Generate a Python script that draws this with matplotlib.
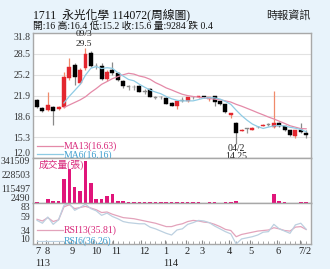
import matplotlib
matplotlib.use('Agg')
import matplotlib.pyplot as plt
import matplotlib.transforms as mtransforms
import numpy as np

# ---------------- data ----------------
opens = [21.2, 19.9, 19.6, 20.0, 19.7, 20.0, 24.6, 26.7, 23.9, 26.2,
         28.7, 26.6, 26.6, 24.5, 25.9, 25.5, 24.2, 23.35, 23.3, 23.4,
         22.6, 23.0, 21.65, 21.65, 21.5, 20.7, 20.2, 21.15, 21.0, 21.65,
         21.6, 21.8, 21.3, 21.8, 21.0, 20.5, 18.8, 17.6, 16.3, 16.65,
         16.5, 16.95, 17.1, 17.35, 16.9, 17.6, 17.0, 16.4, 15.5, 16.5, 16.0]
highs = [21.4, 20.1, 22.4, 20.3, 20.3, 25.7, 27.8, 27.0, 26.3, 29.5,
         28.9, 27.0, 27.0, 25.9, 27.2, 25.7, 24.4, 23.6, 23.5, 23.6,
         22.9, 23.1, 21.8, 21.8, 21.6, 20.8, 21.2, 21.6, 21.7, 21.8,
         21.9, 21.9, 21.7, 21.9, 21.1, 20.6, 19.2, 17.7, 16.6, 16.8,
         16.9, 17.0, 17.4, 17.5, 22.6, 17.7, 17.1, 16.5, 16.5, 17.6, 16.4]
lows = [19.9, 19.3, 19.5, 17.3, 19.6, 19.9, 24.4, 23.6, 23.8, 26.0,
        26.4, 26.1, 24.3, 24.2, 25.2, 24.2, 23.1, 22.7, 22.8, 22.4,
        22.2, 21.6, 21.4, 21.4, 20.5, 20.2, 19.7, 20.9, 20.9, 21.4,
        21.5, 21.5, 21.0, 20.3, 20.4, 19.2, 18.3, 14.25, 16.2, 16.0,
        16.4, 16.7, 17.0, 17.1, 16.8, 16.9, 16.3, 15.5, 15.2, 16.0, 15.2]
closes = [20.0, 19.4, 20.4, 19.5, 20.1, 24.9, 26.4, 24.9, 26.0, 28.5,
          26.6, 26.5, 24.5, 25.7, 25.4, 24.4, 23.4, 23.25, 23.2, 22.5,
          22.5, 21.7, 21.55, 21.6, 20.6, 20.3, 21.1, 21.1, 21.6, 21.6,
          21.85, 21.6, 21.6, 20.9, 20.5, 19.3, 19.1, 16.0, 16.5, 16.6,
          16.8, 16.9, 17.3, 17.3, 17.6, 17.0, 16.4, 15.6, 16.4, 16.1, 15.6]
volumes = [14000, 2490, 37000, 20000, 15000, 194000, 279000, 128000, 100000, 341509,
           166000, 34000, 37000, 57000, 75000, 17000, 15000, 13000, 12000, 11000,
           11000, 10000, 9000, 9000, 8000, 9000, 8000, 7000, 8000, 7000,
           7000, 6000, 8000, 7000, 6000, 9000, 10000, 22000, 6000, 5000,
           5000, 5000, 6000, 5000, 72000, 15000, 10000, 6000, 5000, 12000, 9284]
ma_start = 5
ma13 = [20.0, 20.4, 20.8, 21.2, 21.7, 22.4, 23.0, 23.67, 24.11, 24.57,
        24.88, 25.18, 25.42, 25.29, 24.99, 24.80, 24.47, 23.94, 23.55, 23.10,
        22.78, 22.42, 22.09, 21.88, 21.74, 21.63, 21.51, 21.44, 21.32, 21.22,
        21.05, 20.86, 20.50, 20.21, 19.87, 19.53, 19.17, 18.84, 18.49, 18.18,
        17.83, 17.48, 17.11, 16.88, 16.65, 16.63]
ma6 = [20.72, 21.78, 22.70, 23.63, 25.13, 26.22, 26.48, 26.17, 26.30, 26.20,
       25.52, 24.98, 24.44, 24.23, 23.69, 23.21, 22.76, 22.45, 22.18, 21.74,
       21.38, 21.14, 21.04, 21.05, 21.05, 21.26, 21.48, 21.56, 21.53, 21.34,
       20.96, 20.50, 19.57, 18.72, 18.00, 17.38, 16.98, 16.68, 16.90, 17.08,
       17.15, 17.08, 16.87, 16.72, 16.52, 16.16]
rsi13 = [54, 51, 57, 50, 53, 76, 80, 73, 75, 77,
         74, 71, 66, 67, 63, 60, 57, 56, 55, 53,
         51, 49, 47, 44, 41, 41, 44, 46, 50, 52,
         51, 49, 48, 45, 41, 36, 34, 23, 27, 29,
         31, 33, 34, 35, 39, 37, 34, 33, 40, 41, 35.81]
rsi6 = [52, 47, 58, 45, 53, 79, 82, 70, 75, 81,
        73, 69, 61, 65, 59, 55, 50, 48, 47, 46,
        46, 40, 37, 33, 29, 26, 35, 37, 45, 48,
        52, 51, 48, 42, 37, 32, 28, 10, 19, 21,
        23, 26, 31, 32, 45, 37, 33, 29, 44, 47, 36.26]

price_ticks = [12.0, 15.3, 18.6, 21.9, 25.2, 28.5, 31.8]
vol_ticks = [2490, 115497, 228503, 341509]
rsi_ticks = [10, 34, 59, 83]
month_pos = [0, 1.75, 6.4, 10.4, 14.2, 19.3, 23.8, 27.7, 30.6, 35.6, 39.6, 44.6, 48.9]
month_labels = ['7', '8', '9', '10', '11', '12', '1', '2', '3', '4', '5', '6', '7/2']
year_pos = [0, 23.8]
year_labels = ['113', '114']

title1 = '1711  永光化學 114072(周線圖)'
title2 = '開:16 高:16.4 低:15.2 收:15.6 量:9284 跌 0.4'
source = '時報資訊'
hi_date, hi_val, hi_idx = '09/3', '29.5', 9
lo_date, lo_val, lo_idx = '04/2', '14.25', 37

# ---------------- style ----------------
FAM = ['Liberation Serif', 'Noto Sans CJK TC', 'DejaVu Sans']
plt.rcParams['font.family'] = FAM
BG = '#e8f3fb'
RED = '#e3262e'
MA13C = '#e48aa8'
MA6C = '#8ecbe4'
PINKTXT = '#d8287a'
BLUETXT = '#3f9fd0'
VOLC = '#e0157a'
FRAME = '#a8a8a8'

W, H = 330, 269
fig = plt.figure(figsize=(W / 100, H / 100), dpi=100, facecolor=BG)

def box(x0, y0, x1, y1):
    return [x0 / W, 1 - y1 / H, (x1 - x0) / W, (y1 - y0) / H]

ax1 = fig.add_axes(box(33, 33, 311, 158))
ax2 = fig.add_axes(box(33, 158, 311, 203), sharex=ax1)
ax3 = fig.add_axes(box(33, 203, 311, 244), sharex=ax1)

n = len(closes)
x = np.arange(n)
xmin, xmax = -0.75, 50.9

for ax in (ax1, ax2, ax3):
    ax.set_facecolor('white')
    for s in ax.spines.values():
        s.set_color(FRAME)
        s.set_linewidth(1.0)
    ax.tick_params(axis='y', length=0, labelsize=7, colors='#333333', pad=2)
    ax.set_xlim(xmin, xmax)

# ---- price panel ----
bw = 0.72
for i in range(n):
    o, h, l, c = opens[i], highs[i], lows[i], closes[i]
    up = c > o
    doji = abs(c - o) < 0.12
    if doji:
        col = '#888888'
        wcol = '#999999'
    elif up:
        col = RED
        wcol = '#f08a6a'
    else:
        col = 'black'
        wcol = '#888888'
    ax1.vlines(i, l, h, color=wcol, linewidth=0.9, zorder=2)
    bot = min(o, c)
    ht = max(abs(c - o), 0.08)
    ax1.bar(i, ht, bottom=bot, width=bw, color=col, edgecolor=col, linewidth=0.3, zorder=3)

xm = np.arange(ma_start, ma_start + len(ma13))
ax1.plot(xm, ma13, color=MA13C, linewidth=0.9, zorder=4)
ax1.plot(xm, ma6, color=MA6C, linewidth=0.9, zorder=4)

ax1.set_ylim(12.0, 31.8)
ax1.set_yticks(price_ticks)
ax1.set_yticklabels([f'{t:.1f}' for t in price_ticks])
ax1.grid(axis='y', color='#e2e2e2', linewidth=0.8)
ax1.set_axisbelow(True)
lbl = ax1.get_yticklabels()
lbl[0].set_va('bottom')
lbl[-1].set_va('top')

ax1.annotate(hi_val, (hi_idx, highs[hi_idx]), xytext=(-1, 0), textcoords='offset points',
             ha='center', va='bottom', fontsize=6.8, color='#222222', annotation_clip=False)
ax1.annotate(hi_date, (hi_idx, highs[hi_idx]), xytext=(-1, 7.0), textcoords='offset points',
             ha='center', va='bottom', fontsize=6.8, color='#222222', annotation_clip=False)
ax1.annotate(lo_date, (lo_idx, lows[lo_idx]), xytext=(0, -0.5), textcoords='offset points',
             ha='center', va='top', fontsize=7, color='#222222', annotation_clip=False)
ax1.annotate(lo_val, (lo_idx, lows[lo_idx]), xytext=(0, -6.0), textcoords='offset points',
             ha='center', va='top', fontsize=7, color='#222222', annotation_clip=False)

# legend MA
ax1.plot([0.013, 0.108], [0.096, 0.096], transform=ax1.transAxes, color=MA13C, linewidth=0.9, clip_on=False)
ax1.text(0.112, 0.096, f'MA13({ma13[-1]:.2f})', transform=ax1.transAxes, color=PINKTXT,
         fontsize=7, va='center', ha='left')
ax1.plot([0.013, 0.108], [0.032, 0.032], transform=ax1.transAxes, color=MA6C, linewidth=0.9, clip_on=False)
ax1.text(0.112, 0.026, f'MA6({ma6[-1]:.2f})', transform=ax1.transAxes, color=BLUETXT,
         fontsize=7, va='center', ha='left', clip_on=False, zorder=10)
plt.setp(ax1.get_xticklabels(), visible=False)
ax1.tick_params(axis='x', length=0)

# ---- volume panel ----
ax2.bar(x, volumes, width=0.65, color=VOLC, bottom=0, zorder=3)
ax2.set_ylim(2490, 365000)
ax2.set_yticks(vol_ticks)
ax2.set_yticklabels([str(v) for v in vol_ticks])
vl = ax2.get_yticklabels()
vl[0].set_va('bottom')
ax2.text(0.02, 0.84, '成交量(張)', transform=ax2.transAxes, color=PINKTXT, fontsize=7,
         va='center', ha='left')
plt.setp(ax2.get_xticklabels(), visible=False)
ax2.tick_params(axis='x', length=0)

# ---- RSI panel ----
ax3.plot(x, rsi13, color='#e3a3bb', linewidth=0.9)
ax3.plot(x, rsi6, color='#bcd0e0', linewidth=0.9)
ax3.set_ylim(10, 83)
ax3.set_yticks(rsi_ticks)
ax3.set_yticklabels([str(v) for v in rsi_ticks])
rl = ax3.get_yticklabels()
rl[0].set_va('bottom')
rl[-1].set_va('top')
ax3.plot([0.013, 0.108], [0.34, 0.34], transform=ax3.transAxes, color='#e3a3bb', linewidth=0.9)
ax3.text(0.112, 0.33, f'RSI13({rsi13[-1]:.2f})', transform=ax3.transAxes, color=PINKTXT,
         fontsize=7, va='center', ha='left')
ax3.plot([0.013, 0.108], [0.08, 0.08], transform=ax3.transAxes, color='#bcd0e0', linewidth=0.9)
ax3.text(0.112, 0.08, f'RSI6({rsi6[-1]:.2f})', transform=ax3.transAxes, color=BLUETXT,
         fontsize=7, va='center', ha='left')

ax3.set_xticks(month_pos)
ax3.set_xticklabels(month_labels, ha='left', fontsize=7.5)
ax3.set_xticks(np.arange(n), minor=True)
ax3.tick_params(axis='x', which='major', length=3, direction='in', color='#888888', pad=2,
                labelcolor='#222222')
ax3.tick_params(axis='x', which='minor', length=2, direction='in', color='#999999')
off = mtransforms.ScaledTranslation(-2 / 100, 0, fig.dpi_scale_trans)
for t in ax3.get_xticklabels():
    t.set_transform(t.get_transform() + off)
for p, s in zip(year_pos, year_labels):
    ax3.annotate(s, (p, 0), xycoords=('data', 'axes fraction'), xytext=(-1.5, -11),
                 textcoords='offset points', ha='left', va='top', fontsize=7.5, color='#222222',
                 annotation_clip=False)

# ---- header texts ----
fig.text(33 / W, 1 - 14.5 / H, title1, fontsize=8.5, va='center', ha='left', color='#111111')
fig.text(33 / W, 1 - 26 / H, title2, fontsize=7, va='center', ha='left', color='#111111')
fig.text(311 / W, 1 - 15 / H, source, fontsize=8, va='center', ha='right', color='#222222')

fig.savefig('out.png', dpi=100, facecolor=BG)
